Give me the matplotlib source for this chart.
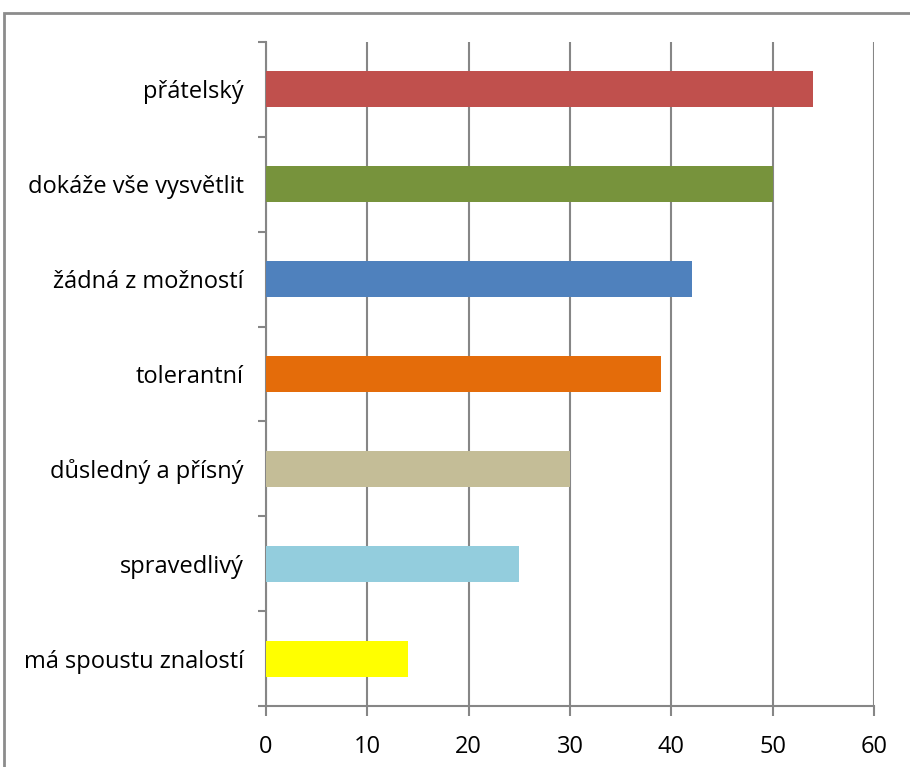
import matplotlib
matplotlib.use("Agg")
import matplotlib.pyplot as plt
from matplotlib.patches import Rectangle

# Data (bottom to top)
categories = ["má spoustu znalostí", "spravedlivý", "důsledný a přísný",
              "tolerantní", "žádná z možností", "dokáže vše vysvětlit", "přátelský"]
values = [14, 25, 30, 39, 42, 50, 54]
colors = ["#FFFF00", "#93CDDD", "#C4BD97", "#E46C0A", "#4F81BD", "#77933C", "#C0504D"]
xticks = [0, 10, 20, 30, 40, 50, 60]

plt.rcParams['font.family'] = ['Open Sans', 'DejaVu Sans']

fig = plt.figure(figsize=(9.1, 7.67), dpi=100)
ax = fig.add_axes([266/910, 1 - 706/767, (874 - 266)/910, (706 - 42)/767])

grey = "#868686"
ypos = range(len(categories))
ax.barh(ypos, values, height=0.38, color=colors, zorder=3)

ax.set_xlim(0, 60)
ax.set_ylim(-0.5, len(categories) - 0.5)
ax.set_xticks(xticks)
ax.set_xticklabels([str(t) for t in xticks], fontsize=17)
ax.xaxis.grid(True, color=grey, linewidth=1.5, zorder=0)

# category labels between tick marks
ax.set_yticks([i - 0.5 for i in range(len(categories) + 1)])
ax.set_yticklabels([])
ax.set_yticks(list(ypos), minor=True)
ax.set_yticklabels(categories, minor=True, fontsize=17)
ax.tick_params(axis='y', which='minor', length=0, pad=16)
ax.tick_params(axis='y', which='major', length=6, width=1.5, color=grey)
ax.tick_params(axis='x', length=7, width=1.5, color=grey, pad=14)

for s in ["top", "right"]:
    ax.spines[s].set_visible(False)
for s in ["left", "bottom"]:
    ax.spines[s].set_color(grey)
    ax.spines[s].set_linewidth(1.5)

# outer chart border
fig.patches.append(Rectangle((4/910, -0.1), 1.0, 1 - 13/767 + 0.1,
                             transform=fig.transFigure, fill=False,
                             edgecolor="#8c8c8c", linewidth=2))

fig.savefig("out.png", dpi=100)
